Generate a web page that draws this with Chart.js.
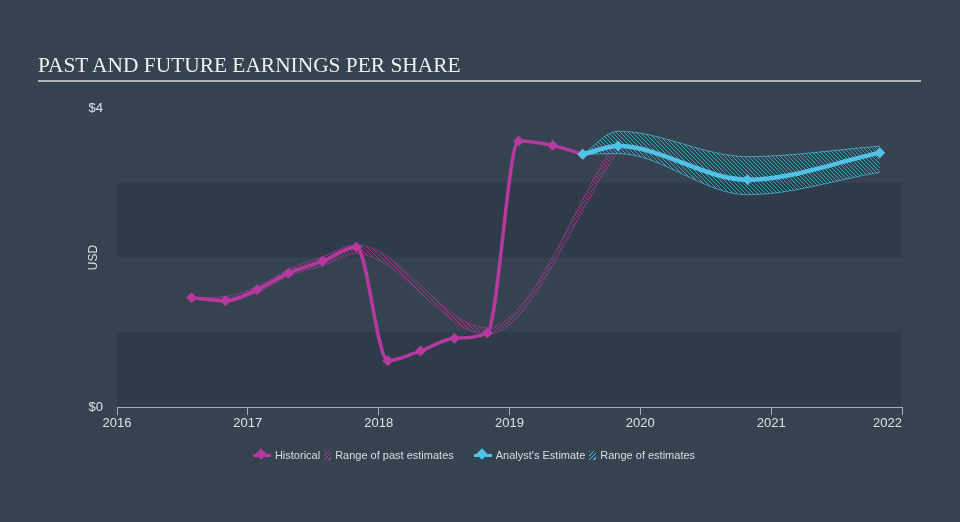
<!DOCTYPE html>
<html>
<head>
<meta charset="utf-8">
<script src="https://cdn.jsdelivr.net/npm/chart.js@4"></script>
<style>
  html,body{margin:0;padding:0;background:#35424f;width:960px;height:522px;overflow:hidden}
  #wrap{position:relative;width:960px;height:522px}
  #c{position:absolute;left:0;top:0}
  #title{position:absolute;left:38px;top:55px;font:21.4px "Liberation Serif",serif;line-height:21px;color:#eef0f2;white-space:nowrap}
  #rule{position:absolute;left:38px;top:80px;width:883px;height:2px;background:#aeb5bd}
  #legend{position:absolute;left:0;width:948px;top:449px;display:flex;justify-content:center;align-items:center;font:11px "Liberation Sans",sans-serif;color:#d9dde2}
  .item{display:flex;align-items:center;margin:0 10px}
  .line{position:relative;width:18px;height:3px;margin-right:4px}
  .line i{position:absolute;left:4px;top:-4px;width:8px;height:8px;transform:rotate(45deg)}
  .hatch{width:7px;height:9px;margin:0 4px 0 4px}
</style>
</head>
<body>
<div id="wrap">
  <canvas id="c" width="960" height="522"></canvas>
  <div id="title">PAST AND FUTURE EARNINGS PER SHARE</div>
  <div id="rule"></div>
  <div id="legend">
    <div class="item"><span class="line" style="background:#b5399f"><i style="background:#b5399f"></i></span>Historical<span class="hatch" style="background:repeating-linear-gradient(135deg,#b5399f 0 1px,transparent 1px 3px)"></span>Range of past estimates</div>
    <div class="item"><span class="line" style="background:#4fc2e6"><i style="background:#4fc2e6"></i></span>Analyst's Estimate<span class="hatch" style="background:repeating-linear-gradient(135deg,#4fc2e6 0 1px,transparent 1px 3px)"></span>Range of estimates</div>
  </div>
</div>
<script>
// reported EPS (USD)
const histYears=[2016.57,2016.83,2017.07,2017.31,2017.57,2017.83,2018.07,2018.32,2018.58,2018.83,2019.07,2019.33,2019.56];
const histEps=[1.46,1.42,1.57,1.79,1.95,2.14,0.62,0.75,0.92,0.99,3.56,3.50,3.38];
// analyst consensus
const estYears=[2019.56,2019.83,2020.82,2021.83];
const estEps=[3.38,3.49,3.04,3.40];
const estHigh=[3.38,3.69,3.35,3.49];
const estLow=[3.38,3.39,2.84,3.14];
// range of past estimates
const pastYears=[2016.57,2016.83,2017.07,2017.31,2017.57,2017.83,2018.83,2019.83];
const pastHigh=[1.46,1.48,1.61,1.84,2.01,2.17,1.06,3.60];
const pastLow=[1.46,1.41,1.53,1.75,1.89,2.05,0.97,3.42];
// axis labels
const xTickLabels=['2016','2017','2018','2019','2020','2021','2022'];
const yTickValues=[0,4];
const yTickLabels=['$0','$4'];

const MAG='#b5399f', CYAN='#4fc2e6', AXIS='#a3afbc', TXT='#dde1e6';

const pts=(xs,ys)=>xs.map((x,i)=>({x:x,y:ys[i]}));
function hatch(color){
  const c=document.createElement('canvas');c.width=4;c.height=4;
  const g=c.getContext('2d');g.strokeStyle=color;g.lineWidth=1;
  g.beginPath();g.moveTo(0,0);g.lineTo(4,4);g.moveTo(-1,3);g.lineTo(1,5);g.moveTo(3,-1);g.lineTo(5,1);g.stroke();
  return g.createPattern(c,'repeat');
}

const bands={
  id:'bands',
  beforeDatasetsDraw(chart){
    const {ctx,chartArea:a,scales:{y}}=chart;
    ctx.save();ctx.fillStyle='#2f3b48';
    [[0,1],[2,3]].forEach(([lo,hi])=>{
      const t=y.getPixelForValue(hi),b=y.getPixelForValue(lo);
      ctx.fillRect(a.left,t,a.right-a.left,b-t);
    });
    ctx.restore();
  },
  afterDraw(chart){
    const {ctx,scales:{x}}=chart;
    ctx.save();ctx.font='13px "Liberation Sans", sans-serif';ctx.fillStyle=TXT;ctx.textBaseline='top';
    xTickLabels.forEach((l,i)=>{
      const px=x.getPixelForValue(Number(l));
      const last=i===xTickLabels.length-1;
      ctx.textAlign=last?'right':'center';
      ctx.fillText(l,px,x.top+10);
    });
    ctx.restore();
  }
};

new Chart(document.getElementById('c'),{
  type:'line',
  data:{datasets:[
    {label:"Analyst's Estimate",data:pts(estYears,estEps),borderColor:CYAN,backgroundColor:CYAN,borderWidth:4.5,
      pointStyle:'rectRot',pointRadius:5.5,pointBorderWidth:0,cubicInterpolationMode:'monotone',order:0},
    {label:'Historical',data:pts(histYears,histEps),borderColor:MAG,backgroundColor:MAG,borderWidth:3.5,
      pointStyle:'rectRot',pointRadius:5.5,pointBorderWidth:0,cubicInterpolationMode:'monotone',order:1},
    {label:'past high',data:pts(pastYears,pastHigh),borderColor:'rgba(181,57,159,0.55)',borderWidth:1,pointRadius:0,
      cubicInterpolationMode:'monotone',fill:false,order:3},
    {label:'Range of past estimates',data:pts(pastYears,pastLow),borderColor:'rgba(181,57,159,0.55)',borderWidth:1,pointRadius:0,
      cubicInterpolationMode:'monotone',fill:'-1',backgroundColor:hatch('rgba(181,57,159,0.75)'),order:3},
    {label:'est high',data:pts(estYears,estHigh),borderColor:'rgba(79,194,230,0.7)',borderWidth:1,pointRadius:0,
      cubicInterpolationMode:'monotone',fill:false,order:2},
    {label:'Range of estimates',data:pts(estYears,estLow),borderColor:'rgba(79,194,230,0.7)',borderWidth:1,pointRadius:0,
      cubicInterpolationMode:'monotone',fill:'-1',backgroundColor:hatch('rgba(79,194,230,0.7)'),order:2}
  ]},
  options:{
    responsive:false,devicePixelRatio:1,animation:false,events:[],
    layout:{padding:{left:0,top:108,right:58,bottom:0}},
    plugins:{legend:{display:false},tooltip:{enabled:false}},
    scales:{
      x:{type:'linear',min:2016,max:2022,
        ticks:{display:false,stepSize:1},
        grid:{display:true,drawOnChartArea:false,drawTicks:true,tickLength:8,color:AXIS,lineWidth:1},
        border:{display:true,color:AXIS,width:1},
        afterFit(s){s.height=115;}},
      y:{min:0,max:4,
        ticks:{stepSize:1,padding:14,color:TXT,font:{family:'Liberation Sans',size:13},
          callback:v=>{const k=yTickValues.indexOf(v);return k<0?'':yTickLabels[k];}},
        grid:{display:false,drawTicks:false},border:{display:false},
        title:{display:true,text:'USD',color:TXT,font:{family:'Liberation Sans',size:12},padding:{top:86,bottom:0}},
        afterFit(s){s.width=117;}}
    }
  },
  plugins:[bands]
});
</script>
</body>
</html>
